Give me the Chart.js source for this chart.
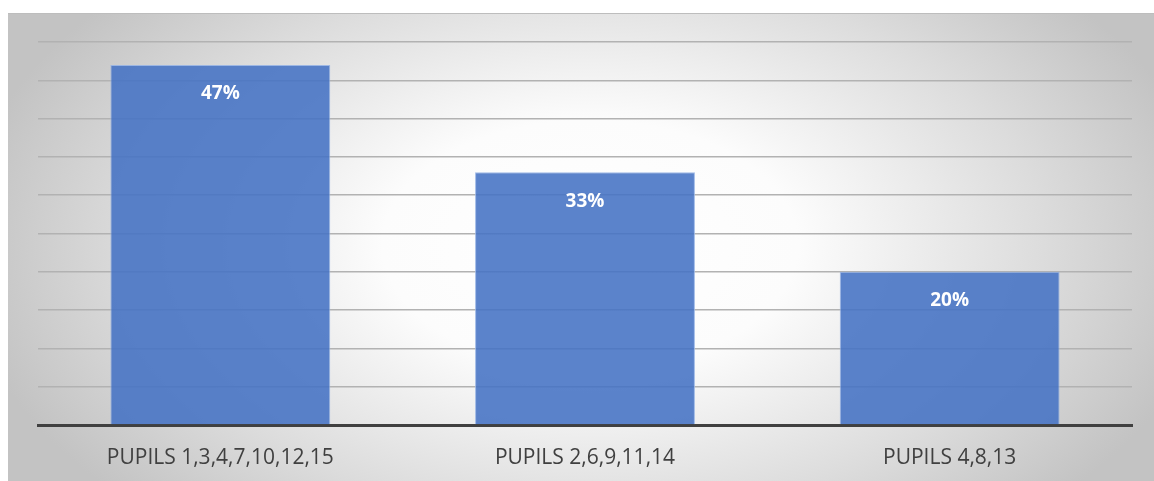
<!DOCTYPE html>
<html>
<head>
<meta charset="utf-8">
<script src="https://cdn.jsdelivr.net/npm/chart.js@4.4.1/dist/chart.umd.min.js"></script>
<style>
  html, body { margin: 0; padding: 0; background: #ffffff; }
  #wrap { position: relative; width: 1154px; height: 481px; }
</style>
</head>
<body>
<div id="wrap"><canvas id="c" width="1154" height="481"></canvas></div>
<script>
// Share of pupils in each group (percent)
const categories = ['PUPILS 1,3,4,7,10,12,15', 'PUPILS 2,6,9,11,14', 'PUPILS 4,8,13'];
const shares = [47, 33, 20];
const yMax = 50;
const yStep = 5;

// Soft radial backdrop behind the whole chart panel
const panelBackground = {
  id: 'panelBackground',
  beforeDraw(chart) {
    const ctx = chart.ctx;
    const x0 = 8, y0 = 13, w = chart.width - x0, h = chart.height - y0;
    const cx = 590, cy = 245;
    ctx.save();
    ctx.beginPath();
    ctx.rect(x0, y0, w, h);
    ctx.clip();
    ctx.translate(cx, cy);
    ctx.scale(1, 0.6);
    const g = ctx.createRadialGradient(0, 0, 0, 0, 0, 630);
    g.addColorStop(0, '#ffffff');
    g.addColorStop(0.33, '#fcfcfc');
    g.addColorStop(0.72, '#dcdcdc');
    g.addColorStop(1, '#c3c3c3');
    ctx.fillStyle = g;
    ctx.fillRect(-cx, -cy / 0.6, chart.width * 2, chart.height * 3);
    ctx.restore();
    ctx.save();
    ctx.fillStyle = '#bdbdbd';
    ctx.fillRect(x0, y0, w, 1);
    ctx.restore();
  }
};

// Value labels inside the top of each bar
const barValueLabels = {
  id: 'barValueLabels',
  afterDatasetsDraw(chart) {
    const ctx = chart.ctx;
    const meta = chart.getDatasetMeta(0);
    ctx.save();
    ctx.fillStyle = '#ffffff';
    ctx.font = 'bold 19px "Open Sans", sans-serif';
    ctx.textAlign = 'center';
    ctx.textBaseline = 'middle';
    meta.data.forEach((bar, i) => {
      ctx.fillText(chart.data.datasets[0].data[i] + '%', bar.x, bar.y + 29);
    });
    ctx.restore();
  }
};

new Chart(document.getElementById('c'), {
  type: 'bar',
  data: {
    labels: categories,
    datasets: [{
      data: shares,
      backgroundColor: 'rgba(68,114,196,0.88)',
      borderColor: 'rgba(150,178,228,0.9)',
      borderWidth: 1,
      barPercentage: 0.603,
      categoryPercentage: 1
    }]
  },
  options: {
    responsive: false,
    animation: false,
    layout: { padding: { left: 38, right: 22, top: 42, bottom: 0 } },
    plugins: { legend: { display: false }, tooltip: { enabled: false } },
    scales: {
      x: {
        grid: { display: false },
        border: { display: true, color: '#404040', width: 3 },
        ticks: {
          color: '#404040',
          font: { family: '"Open Sans", sans-serif', size: 21 },
          padding: 12
        },
        afterFit(scale) { scale.height = 56; }
      },
      y: {
        min: 0,
        max: yMax,
        ticks: { display: false, stepSize: yStep },
        border: { display: false },
        grid: {
          drawTicks: false,
          color: (c) => c.tick && c.tick.value === 0 ? 'rgba(0,0,0,0)' : '#b2b2b2',
          lineWidth: 1.5
        },
        afterFit(scale) { scale.width = 0; }
      }
    }
  },
  plugins: [panelBackground, barValueLabels]
});
</script>
</body>
</html>
